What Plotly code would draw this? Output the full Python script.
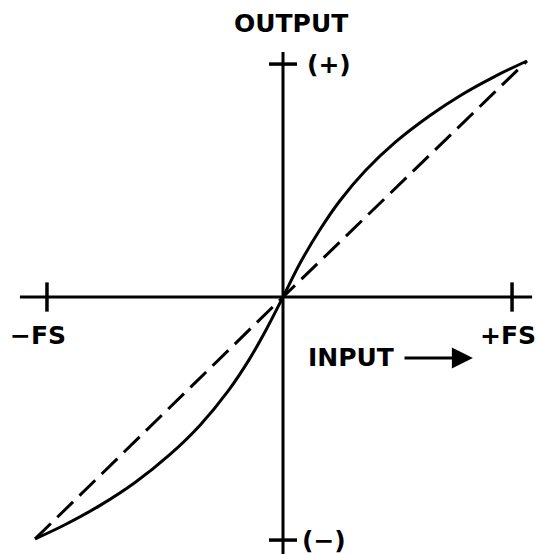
import plotly.graph_objects as go

# ---- data (full-scale normalized units) ----
ideal_x = [-1.064, 0.0, 1.047]
ideal_y = [-1.025, 0.0, 1.0]

actual_x = [-1.064, -0.936, -0.785, -0.635, -0.485, -0.356, -0.236, -0.142, -0.073, 0.0,
            0.073, 0.159, 0.245, 0.352, 0.481, 0.631, 0.760, 0.910, 1.047]
actual_y = [-1.025, -0.965, -0.883, -0.786, -0.667, -0.543, -0.399, -0.260, -0.140, 0.0,
            0.143, 0.286, 0.409, 0.534, 0.655, 0.769, 0.853, 0.935, 1.0]

x_axis_extent = [-1.129, 1.069]
y_axis_extent = [-1.089, 1.038]
x_fs_ticks = [-1.013, 0.983]
y_fs_ticks = [0.987, -1.03]
x_tick_labels = ["−FS", "+FS"]
y_tick_labels = ["(+)", "(−)"]

# ---- layout mapping ----
W, H = 542, 554
OX, OY = 283, 297       # pixel of origin
SX, SY = 233, 236       # pixels per unit
xr = [-OX / SX, (W - OX) / SX]
yr = [(OY - H) / SY, OY / SY]

BLACK = "#000000"
FONT = dict(family="DejaVu Sans", size=25, color=BLACK)

fig = go.Figure()

# axes
fig.add_trace(go.Scatter(x=x_axis_extent, y=[0, 0], mode="lines",
                         line=dict(color=BLACK, width=3), hoverinfo="skip"))
fig.add_trace(go.Scatter(x=[0, 0], y=y_axis_extent, mode="lines",
                         line=dict(color=BLACK, width=3), hoverinfo="skip"))
# full-scale ticks
th_y = 0.062
for xt in x_fs_ticks:
    fig.add_trace(go.Scatter(x=[xt, xt], y=[th_y, -th_y], mode="lines",
                             line=dict(color=BLACK, width=3.5), hoverinfo="skip"))
th_x = 0.06
for yt in y_fs_ticks:
    fig.add_trace(go.Scatter(x=[-th_x, th_x], y=[yt, yt], mode="lines",
                             line=dict(color=BLACK, width=3.5), hoverinfo="skip"))

# ideal (dashed) line
fig.add_trace(go.Scatter(x=ideal_x, y=ideal_y, mode="lines",
                         line=dict(color=BLACK, width=3, dash="22px,9px"),
                         hoverinfo="skip"))
# actual (solid) curve
fig.add_trace(go.Scatter(x=actual_x, y=actual_y, mode="lines",
                         line=dict(color=BLACK, width=3, shape="spline", smoothing=1.0),
                         hoverinfo="skip"))

ann = []
ann.append(dict(x=0.036, y=1.157, text="<b>OUTPUT</b>", showarrow=False, font=FONT))
ann.append(dict(x=x_fs_ticks[0] - 0.037, y=-0.165, text="<b>" + x_tick_labels[0] + "</b>",
                showarrow=False, font=FONT))
ann.append(dict(x=x_fs_ticks[1] - 0.017, y=-0.165, text="<b>" + x_tick_labels[1] + "</b>",
                showarrow=False, font=FONT))
ann.append(dict(x=0.197, y=y_fs_ticks[0], text="<b>" + y_tick_labels[0] + "</b>",
                showarrow=False, font=FONT))
ann.append(dict(x=0.176, y=y_fs_ticks[1], text="<b>" + y_tick_labels[1] + "</b>",
                showarrow=False, font=FONT))
ann.append(dict(x=0.292, y=-0.258, text="<b>INPUT</b>", showarrow=False, font=FONT))
ann.append(dict(x=0.815, y=-0.258, ax=0.515, ay=-0.258, xref="x", yref="y",
                axref="x", ayref="y", text="", showarrow=True,
                arrowhead=2, arrowsize=1.4, arrowwidth=3, arrowcolor=BLACK))

fig.update_layout(
    width=W, height=H,
    margin=dict(l=0, r=0, t=0, b=0),
    paper_bgcolor="white", plot_bgcolor="white",
    showlegend=False,
    xaxis=dict(range=xr, visible=False, fixedrange=True),
    yaxis=dict(range=yr, visible=False, fixedrange=True),
    annotations=ann,
)

fig.write_html("out.html", config={"displayModeBar": False},
               post_script="document.body.style.margin='0px';document.body.style.overflow='hidden';")
